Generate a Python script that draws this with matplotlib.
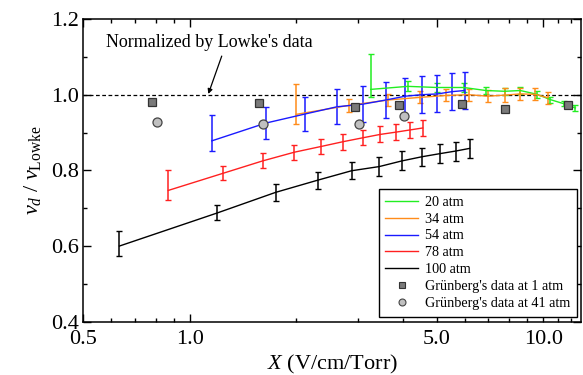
import matplotlib
matplotlib.use("Agg")
import matplotlib.pyplot as plt
from matplotlib.ticker import FixedLocator, FixedFormatter, NullFormatter
from matplotlib.lines import Line2D

plt.rcParams['font.family'] = ['Liberation Serif', 'DejaVu Serif']
plt.rcParams['mathtext.fontset'] = 'custom'
plt.rcParams['mathtext.rm'] = 'Liberation Serif'
plt.rcParams['mathtext.it'] = 'Liberation Serif:italic'

# ---- data ----
x20 = [3.25, 4.14, 5.02, 5.96, 6.89, 7.78, 8.62, 9.61, 10.48, 11.45, 12.34]
y20 = [1.014, 1.022, 1.019, 1.019, 1.011, 1.009, 1.011, 1.001, 0.987, 0.976, 0.965]
lo20 = [0.020, 0.013, 0.011, 0.011, 0.010, 0.009, 0.009, 0.009, 0.008, 0.007, 0.008]
hi20 = [0.093, 0.013, 0.011, 0.011, 0.010, 0.009, 0.009, 0.009, 0.008, 0.007, 0.008]

x34 = [2.00, 2.83, 3.65, 4.49, 5.32, 6.15, 6.98, 7.82, 8.62, 9.50, 10.30]
y34 = [0.948, 0.972, 0.986, 0.993, 0.998, 1.000, 0.996, 0.999, 1.002, 1.001, 0.992]
lo34 = [0.026, 0.017, 0.016, 0.016, 0.016, 0.016, 0.016, 0.018, 0.016, 0.016, 0.016]
hi34 = [0.080, 0.017, 0.016, 0.016, 0.016, 0.016, 0.016, 0.018, 0.016, 0.016, 0.016]

x54 = [1.154, 1.641, 2.12, 2.607, 3.089, 3.589, 4.07, 4.54, 5.02, 5.52, 5.99]
y54 = [0.878, 0.925, 0.949, 0.968, 0.975, 0.986, 0.996, 1.000, 1.002, 1.008, 1.011]
lo54 = [0.028, 0.043, 0.045, 0.046, 0.048, 0.048, 0.049, 0.049, 0.049, 0.048, 0.050]
hi54 = [0.068, 0.043, 0.045, 0.046, 0.048, 0.048, 0.049, 0.049, 0.049, 0.048, 0.050]

x78 = [0.869, 1.239, 1.607, 1.976, 2.349, 2.722, 3.084, 3.458, 3.83, 4.21, 4.56]
y78 = [0.747, 0.792, 0.825, 0.848, 0.863, 0.876, 0.886, 0.895, 0.901, 0.907, 0.912]
lo78 = [0.026, 0.018, 0.020, 0.020, 0.020, 0.021, 0.020, 0.021, 0.022, 0.022, 0.022]
hi78 = [0.054, 0.020, 0.020, 0.020, 0.020, 0.021, 0.020, 0.021, 0.022, 0.022, 0.022]

x100 = [0.632, 1.192, 1.751, 2.30, 2.87, 3.436, 3.983, 4.54, 5.09, 5.65, 6.19]
y100 = [0.600, 0.687, 0.742, 0.774, 0.799, 0.810, 0.825, 0.836, 0.844, 0.851, 0.858]
lo100 = [0.026, 0.018, 0.022, 0.022, 0.023, 0.024, 0.025, 0.024, 0.025, 0.025, 0.026]
hi100 = [0.040, 0.021, 0.022, 0.022, 0.023, 0.024, 0.025, 0.024, 0.025, 0.025, 0.026]

xg1 = [0.783, 1.571, 2.94, 3.913, 5.89, 7.81, 11.73]
yg1 = [0.981, 0.977, 0.968, 0.973, 0.975, 0.961, 0.972]

xg41 = [0.809, 1.615, 3.021, 4.025]
yg41 = [0.928, 0.922, 0.923, 0.944]

labels = ['20 atm', '34 atm', '54 atm', '78 atm', '100 atm']
colors = ['#22ee22', '#ff8c1a', '#1a1aff', '#ff2020', '#000000']

# ---- figure ----
fig = plt.figure(figsize=(5.83, 3.75), dpi=100)
ax = fig.add_axes([0.1432, 0.1421, 0.8534, 0.8072])
ax.set_xscale('log')

series = [(x20, y20, lo20, hi20), (x34, y34, lo34, hi34), (x54, y54, lo54, hi54),
          (x78, y78, lo78, hi78), (x100, y100, lo100, hi100)]
handles = []
for (xs, ys, lo, hi), c, lab in zip(series, colors, labels):
    ax.errorbar(xs, ys, yerr=[lo, hi], color=c, ecolor=c, elinewidth=1.1,
                capsize=2.3, capthick=1.0, lw=1.0, zorder=3)
    handles.append(Line2D([], [], color=c, lw=1.0, label=lab))

ax.axhline(1.0, color='black', lw=0.9, ls=(0, (3, 2)), zorder=2)

ax.plot(xg1, yg1, ls='none', marker='s', ms=6, mfc='#7a7a7a', mec='#333333',
        mew=0.9, zorder=5)
ax.plot(xg41, yg41, ls='none', marker='o', ms=6.5, mfc='#c0c0c0', mec='#444444',
        mew=0.9, zorder=5)
handles.append(Line2D([], [], ls='none', marker='s', ms=5, mfc='#7a7a7a',
                      mec='#333333', mew=0.8, label="Grünberg's data at 1 atm"))
handles.append(Line2D([], [], ls='none', marker='o', ms=5, mfc='#c0c0c0',
                      mec='#444444', mew=0.8, label="Grünberg's data at 41 atm"))

ax.set_xlim(0.5, 12.8)
ax.set_ylim(0.4, 1.2)

ax.xaxis.set_major_locator(FixedLocator([0.5, 1.0, 5.0, 10.0]))
ax.xaxis.set_major_formatter(FixedFormatter(['0.5', '1.0', '5.0', '10.0']))
ax.xaxis.set_minor_locator(FixedLocator([0.6, 0.7, 0.8, 0.9, 2, 3, 4, 6, 7, 8, 9, 11, 12]))
ax.xaxis.set_minor_formatter(NullFormatter())
ax.set_yticks([0.4, 0.6, 0.8, 1.0, 1.2])
ax.set_yticklabels(['0.4', '0.6', '0.8', '1.0', '1.2'])
ax.set_yticks([0.5, 0.7, 0.9, 1.1], minor=True)

ax.tick_params(which='both', direction='in', top=True, right=True, labelsize=16,
               width=1.0)
ax.tick_params(axis='x', which='both', pad=6)
ax.tick_params(axis='y', which='both', pad=3)
ax.tick_params(which='major', length=5.5)
ax.tick_params(which='minor', length=3)
for s in ax.spines.values():
    s.set_linewidth(1.1)

ax.set_xlabel(r'$X$ (V/cm/Torr)', fontsize=16, labelpad=3)
ax.set_ylabel(r'$v_d\ /\ v_{\rm Lowke}$', fontsize=16, labelpad=6)

ax.text(1.137, 1.137, "Normalized by Lowke's data", fontsize=13,
        ha='center', va='center')
ax.annotate('', xy=(1.128, 1.002), xytext=(1.231, 1.102),
            arrowprops=dict(arrowstyle='-|>', color='black', lw=0.9,
                            mutation_scale=7, shrinkA=0, shrinkB=0))

leg = ax.legend(handles=handles, loc='lower right', bbox_to_anchor=(0.9914, 0.0165),
                borderaxespad=0, fontsize=10.2, frameon=True, fancybox=False,
                edgecolor='black', framealpha=1, handlelength=2.3,
                handletextpad=0.5, labelspacing=0.28, borderpad=0.45)
leg.get_frame().set_linewidth(1.0)

fig.savefig('out.png', dpi=100)
